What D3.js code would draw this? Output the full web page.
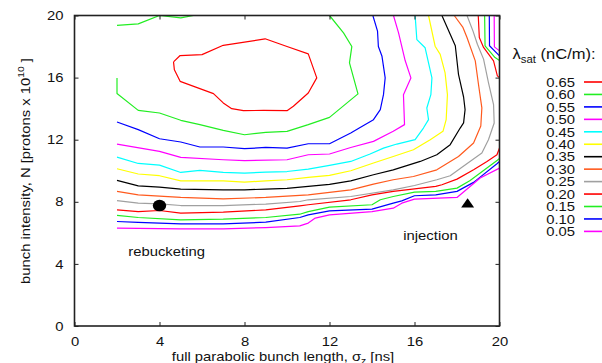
<!DOCTYPE html>
<html>
<head>
<meta charset="utf-8">
<script src="https://cdn.jsdelivr.net/npm/d3@7"></script>
<style>
  body { margin: 0; background: #fff; }
  text { font-family: "Liberation Sans", Arial, sans-serif; fill: #111; }
</style>
</head>
<body>
<div id="chart"></div>
<script>
// tick values
var xTicks = [0, 4, 8, 12, 16, 20];
var yTicks = [0, 4, 8, 12, 16, 20];

// contour levels, lambda_sat (nC/m)
var levels = ['0.65', '0.60', '0.55', '0.50', '0.45', '0.40', '0.35',
              '0.30', '0.25', '0.20', '0.15', '0.10', '0.05'];
var levelColors = ['#ff0000', '#22ee22', '#0000ff', '#ff00ff', '#00ffff', '#ffff00', '#000000',
                   '#ff5a1e', '#a0a0a0', '#ff0000', '#22ee22', '#0000ff', '#ff00ff'];

// contour lines: [sigma_z (ns), N (1e10)]
var c065 = [
  [[4.66,17.01],[4.97,17.42],[6,17.48],[7,18.08],[8,18.28],[8.97,18.5],[10,18],[11,17.53],
   [11.4,15.98],[11,15.01],[10.3,14.15],[10,13.87],[8.9,13.89],[7.95,13.87],[7.4,14],
   [7,14.37],[6.54,14.97],[4.97,15.76],[4.7,16.5],[4.66,17.01]]
];
var c060 = [
  [[2,19.37],[3,19.46],[4,20],[5,19.85],[5.6,20]],
  [[2,15.98],[2,14.97],[3,13.89],[4,13.72],[5,13.25],[5.9,12.97],[7,12.6],[8,12.32],[9,12.47],
   [10,12.54],[11,12.97],[12,13.44],[13.34,14.95],[12.94,16.95],[13.05,18],[12.66,18.88],[12,20]]
];
var c055 = [
  [[2,13.14],[3,12.65],[4,12.06],[5,11.85],[5.9,11.53],[7,11.53],[8,11.42],[9,11.5],[10,11.46],
   [11,11.74],[12,11.74],[13,12.43],[13.4,12.75],[14.07,13.29],[14.39,13.94],[14.54,14.9],
   [14.62,15.98],[14.47,17.37],[14.3,18],[14.26,18.99],[14.04,20]]
];
var c050 = [
  [[2,11.72],[4,11.25],[5,10.86],[7,10.71],[8,10.65],[10,10.71],[11,11.03],[12,11.08],[13,11.5],
   [14.07,11.89],[15,12.54],[15.53,12.97],[15.48,14.9],[15.83,15.98],[15.56,17.1],[15.25,18.88],[15.01,20]]
];
var c045 = [
  [[2,10.88],[3,10.47],[4,10.36],[5,9.89],[5.9,10.02],[7,9.89],[8,9.85],[9,9.91],[10,9.95],
   [11,10.1],[12,10.35],[13,10.6],[13.91,11.08],[14.54,11.46],[15.17,11.72],[16.03,12],
   [16.42,12.75],[16.66,13.29],[16.58,14.04],[16.77,14.9],[16.82,15.98],[16.5,17.92],[16.11,18.45],[16.03,20]]
];
var c040 = [
  [[2,10.13],[3,9.79],[4,9.68],[5,9.35],[7,9.35],[8,9.27],[9,9.35],[10,9.42],[11,9.57],[12,9.7],
   [13,10],[14.07,10.5],[15,10.92],[15.95,11.35],[16.74,12],[17.34,12.54],[17.49,13.29],
   [17.55,14.9],[17.44,16.3],[17.21,17.5],[16.97,18.02],[16.66,20]]
];
var c035 = [
  [[2,9.38],[3,9.03],[4,8.95],[5,8.82],[7,8.77],[8,8.77],[9,8.82],[10,8.86],[11,8.99],[12,9.12],
   [13,9.35],[14.07,9.74],[15,10.06],[16.27,10.6],[17.05,11.03],[17.68,11.68],[18.15,12.75],
   [18.31,13.08],[18.38,13.94],[18.31,14.75],[18.07,16.21],[17.92,18.05],[17.68,18.79],[17.29,20]]
];
var c030 = [
  [[2,8.67],[3,8.45],[5,8.28],[7,8.19],[9,8.28],[10.6,8.41],[11,8.45],[13,8.77],[14.07,9.14],
   [15,9.42],[15.95,9.63],[17.05,10.06],[18.07,10.92],[18.78,11.79],[19.12,12.88],[19.17,14.05],
   [19.01,15.57],[18.86,17.08],[18.47,18.58],[18.28,19.23],[17.87,20]]
];
var c025 = [
  [[2,8.08],[3,7.91],[4,7.87],[5,7.76],[7,7.76],[9,7.85],[10.6,8.02],[11,8.13],[13,8.34],[15,8.77],
   [16,9.05],[17.05,9.42],[17.68,9.68],[18.2,10.2],[19.17,11.14],[19.48,12],[19.75,13.08],
   [19.72,14.26],[19.48,15.68],[19.25,17.19],[18.96,18.15],[18.75,19.01],[18.47,20]]
];
var c020 = [
  [[2,7.48],[3,7.37],[4,7.44],[5,7.27],[7,7.33],[9,7.48],[10.6,7.74],[11,7.81],[13,8.13],[14,8.45],
   [15,8.67],[17,8.99],[17.29,9.1],[18,9.46],[18.78,10.06],[19.41,10.6],[19.88,11.03],[20,11.46]],
  [[20,16],[19.9,16.11],[19.72,17.08],[19.25,17.94],[19.05,18.58],[19,20]]
];
var c015 = [
  [[2,7.12],[3,6.99],[5,6.84],[7,6.88],[9,6.99],[10.6,7.2],[11,7.37],[12,7.66],[14,7.81],
   [14.39,8.13],[15,8.34],[16,8.62],[17,8.67],[18,8.88],[18.6,9.35],[19.9,10.68],[20,10.8]],
  [[19.3,20],[19.32,18.05],[19.79,17.29],[20,17.1]]
];
var c010 = [
  [[2,6.73],[3,6.67],[5,6.58],[7,6.58],[9,6.69],[10.6,6.99],[11,7.16],[12,7.42],[14,7.53],[15,7.91],
   [15.4,8.06],[16,8.39],[17,8.45],[18,8.67],[18.78,9.25],[19.88,10.45],[20,10.6]],
  [[19.52,20],[19.53,18.05],[20,17.4]]
];
var c005 = [
  [[2,6.3],[5,6.26],[7,6.26],[9,6.34],[10.6,6.45],[11,6.63],[11.33,6.95],[12,7.16],[14,7.37],
   [15,7.59],[15.4,7.91],[16,8.17],[18,8.28],[19.09,9.53],[20,10.17]],
  [[19.75,20],[19.76,17.98],[20,17.72]]
];
var contours = [c065, c060, c055, c050, c045, c040, c035, c030, c025, c020, c015, c010, c005];

// operating points
var rebucketing = [4, 7.76];
var injection = [18.5, 7.9];

// stretch text a bit wider, like the original print
function widen(sel) {
  sel.each(function() {
    var w = this.getComputedTextLength();
    d3.select(this).attr('textLength', w * 1.14).attr('lengthAdjust', 'spacingAndGlyphs');
  });
}

var width = 602,
    height = 363,
    plotL = 74.5, plotR = 499.5, plotT = 15.5, plotB = 326;

var svg = d3.select('#chart')
  .append('svg')
    .attr('width', width)
    .attr('height', height);

var x = d3.scaleLinear().domain([0, 20]).range([plotL, plotR]);
var y = d3.scaleLinear().domain([0, 20]).range([plotB, plotT]);

svg.append('clipPath')
    .attr('id', 'plot')
  .append('rect')
    .attr('x', plotL).attr('y', plotT)
    .attr('width', plotR - plotL).attr('height', plotB - plotT);

// contours
var line = d3.line()
  .x(function(d) { return x(d[0]); })
  .y(function(d) { return y(d[1]); });

var g = svg.append('g').attr('clip-path', 'url(#plot)');
contours.forEach(function(pieces, i) {
  g.selectAll('.c' + i)
      .data(pieces)
    .enter().append('path')
      .attr('class', 'c' + i)
      .attr('d', line)
      .attr('fill', 'none')
      .attr('stroke', levelColors[i])
      .attr('stroke-width', 1.2)
      .attr('stroke-linejoin', 'round');
});

// axes, ticks pointing in
function styleAxis(a) {
  a.select('.domain').remove();
  a.selectAll('line').attr('stroke', '#222');
  a.selectAll('text').style('font-size', '13px').style('font-family', '"Liberation Sans", Arial, sans-serif').attr('fill', '#111');
}

svg.append('g')
    .attr('transform', 'translate(0,' + plotB + ')')
    .call(d3.axisBottom(x).tickValues(xTicks).tickSizeInner(-4).tickSizeOuter(0).tickPadding(11))
    .call(styleAxis);
svg.append('g')
    .attr('transform', 'translate(' + plotL + ',0)')
    .call(d3.axisLeft(y).tickValues(yTicks).tickSizeInner(-4).tickSizeOuter(0).tickPadding(11))
    .call(styleAxis);
svg.append('g')
    .attr('transform', 'translate(0,' + plotT + ')')
    .call(d3.axisTop(x).tickValues(xTicks).tickSizeInner(-4).tickSizeOuter(0).tickFormat(''))
    .call(styleAxis);
svg.append('g')
    .attr('transform', 'translate(' + plotR + ',0)')
    .call(d3.axisRight(y).tickValues(yTicks).tickSizeInner(-4).tickSizeOuter(0).tickFormat(''))
    .call(styleAxis);

svg.append('rect')
    .attr('x', plotL).attr('y', plotT)
    .attr('width', plotR - plotL).attr('height', plotB - plotT)
    .attr('fill', 'none')
    .attr('stroke', '#222')
    .attr('stroke-width', 1.6);

// axis titles
var xl = svg.append('text')
    .attr('transform', 'translate(283,360.5) scale(1.14,1)')
    .attr('text-anchor', 'middle')
    .style('font-size', '13px');
xl.append('tspan').text('full parabolic bunch length, σ');
xl.append('tspan').attr('dy', 3).style('font-size', '9px').text('z');
xl.append('tspan').attr('dy', -3).text(' [ns]');

var yl = svg.append('text')
    .attr('transform', 'translate(30,171) rotate(-90) scale(1.14,1)')
    .attr('text-anchor', 'middle')
    .style('font-size', '13px');
yl.append('tspan').text('bunch intensity, N [protons x 10');
yl.append('tspan').attr('dy', -6).style('font-size', '9px').text('10');
yl.append('tspan').attr('dy', 6).text(' ]');

// markers
svg.append('ellipse')
    .attr('cx', x(rebucketing[0])).attr('cy', y(rebucketing[1]))
    .attr('rx', 6.7).attr('ry', 5.8)
    .attr('fill', '#000');
svg.append('path')
    .attr('transform', 'translate(' + x(injection[0]) + ',' + y(injection[1]) + ')')
    .attr('d', 'M0,-5L6.5,4.2L-6.5,4.2Z')
    .attr('fill', '#000');

svg.append('text')
    .attr('x', 128.3).attr('y', 255.5)
    .style('font-size', '13px')
    .text('rebucketing')
    .call(widen);
svg.append('text')
    .attr('x', 403.3).attr('y', 240)
    .style('font-size', '13px')
    .text('injection')
    .call(widen);

// legend
var head = svg.append('text')
    .attr('transform', 'translate(512.5,59) scale(1.14,1)')
    .style('font-size', '14.5px');
head.append('tspan').text('λ');
head.append('tspan').attr('dy', 4).style('font-size', '10px').text('sat');
head.append('tspan').attr('dy', -4).text(' (nC/m):');

var legend = svg.selectAll('.legend')
    .data(levels)
  .enter().append('g')
    .attr('class', 'legend')
    .attr('transform', function(d, i) { return 'translate(0,' + (82 + i * 12.45) + ')'; });

legend.append('text')
    .attr('x', 575).attr('y', 4.7)
    .attr('text-anchor', 'end')
    .style('font-size', '13px')
    .text(function(d) { return d; })
    .call(widen);

legend.append('line')
    .attr('x1', 584).attr('x2', 602)
    .attr('stroke', function(d, i) { return levelColors[i]; })
    .attr('stroke-width', 1.6);

svg.selectAll('.tick text').call(widen);
</script>
</body>
</html>
